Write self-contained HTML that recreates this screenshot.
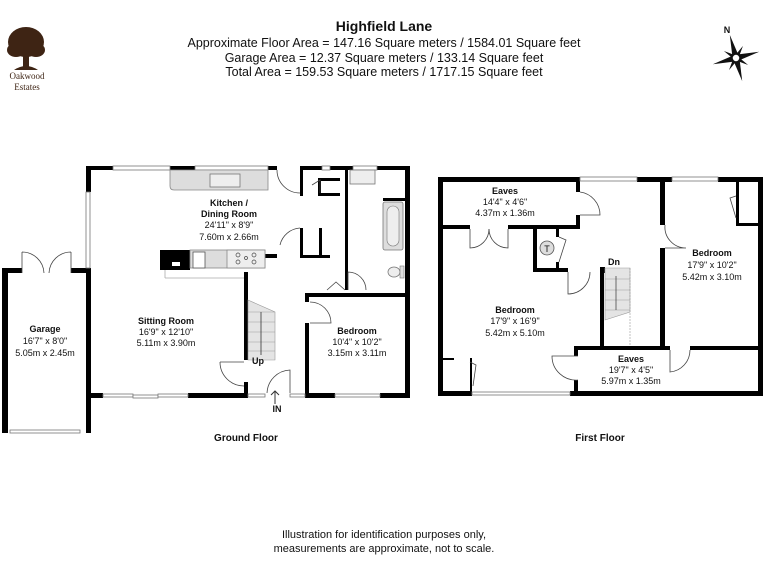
<!DOCTYPE html>
<html><head><meta charset="utf-8"><style>
body{margin:0;background:#fff}
svg{display:block}
text{font-family:"Liberation Sans",Arial,sans-serif;fill:#111}
</style></head><body>
<svg width="768" height="576" viewBox="0 0 768 576" xmlns="http://www.w3.org/2000/svg">
<rect width="768" height="576" fill="#fff"/>
<!-- header -->
<text x="384" y="31" font-size="14" font-weight="bold" text-anchor="middle">Highfield Lane</text>
<text x="384" y="47" font-size="12.5" text-anchor="middle">Approximate Floor Area = 147.16 Square meters / 1584.01 Square feet</text>
<text x="384" y="62" font-size="12.5" text-anchor="middle">Garage Area = 12.37 Square meters / 133.14 Square feet</text>
<text x="384" y="76" font-size="12.5" text-anchor="middle">Total Area = 159.53 Square meters / 1717.15 Square feet</text>
<!-- logo -->
<g fill="#3e2414">
<ellipse cx="26" cy="42" rx="18" ry="15"/>
<ellipse cx="16" cy="50" rx="9" ry="7"/>
<ellipse cx="36" cy="50" rx="9" ry="7"/>
<rect x="23" y="50" width="6" height="18"/>
<path d="M14 70 Q26 62 38 70 Z"/>
</g>
<text x="27" y="79" font-size="9" text-anchor="middle" style="font-family:'Liberation Serif',serif;fill:#3e2414">Oakwood</text>
<text x="27" y="90" font-size="9" text-anchor="middle" style="font-family:'Liberation Serif',serif;fill:#3e2414">Estates</text>
<!-- compass -->
<text x="727" y="33" font-size="9" font-weight="bold" text-anchor="middle">N</text>
<g transform="translate(736,58)" fill="#111">
<polygon points="0,-24 3,-3 0,0 -3,-3" transform="rotate(-15)"/>
<polygon points="0,-24 3,-3 0,0 -3,-3" transform="rotate(75)"/>
<polygon points="0,-24 3,-3 0,0 -3,-3" transform="rotate(165)"/>
<polygon points="0,-24 3,-3 0,0 -3,-3" transform="rotate(255)"/>
<polygon points="0,-14 2,-2 0,0 -2,-2" transform="rotate(30)"/>
<polygon points="0,-14 2,-2 0,0 -2,-2" transform="rotate(120)"/>
<polygon points="0,-14 2,-2 0,0 -2,-2" transform="rotate(210)"/>
<polygon points="0,-14 2,-2 0,0 -2,-2" transform="rotate(300)"/>
<circle r="4" fill="#fff" stroke="#111" stroke-width="1.5"/>
</g>

<!-- GROUND FLOOR -->
<g fill="#000">
<rect x="2" y="268" width="6" height="165"/>
<rect x="86" y="268" width="5" height="165"/>
<rect x="2" y="268" width="20" height="5"/>
<rect x="71" y="268" width="18" height="5"/>
<rect x="86" y="166" width="5" height="26"/>
<rect x="86" y="268" width="5" height="130"/>
<rect x="86" y="166" width="27" height="4"/>
<rect x="170" y="166" width="25" height="4"/>
<rect x="268" y="166" width="9" height="4"/>
<rect x="300" y="166" width="22" height="4"/>
<rect x="330" y="166" width="23" height="4"/>
<rect x="377" y="166" width="33" height="4"/>
<rect x="405" y="166" width="5" height="232"/>
<rect x="86" y="393" width="17" height="5"/>
<rect x="188" y="393" width="60" height="5"/>
<rect x="305" y="393" width="30" height="5"/>
<rect x="380" y="393" width="30" height="5"/>
<rect x="300" y="166" width="3" height="30"/>
<rect x="300" y="228" width="3" height="30"/>
<rect x="319" y="228" width="3" height="30"/>
<rect x="300" y="255" width="30" height="3"/>
<rect x="318" y="178" width="3" height="18"/>
<rect x="318" y="178" width="22" height="3"/>
<rect x="318" y="193" width="22" height="3"/>
<rect x="345" y="166" width="3" height="124"/>
<rect x="383" y="198" width="22" height="3"/>
<rect x="305" y="293" width="105" height="4"/>
<rect x="305" y="293" width="4" height="9"/>
<rect x="305" y="323" width="4" height="75"/>
<rect x="160" y="250" width="30" height="20"/>
<rect x="265" y="254" width="12" height="4"/>
<rect x="244" y="272" width="4" height="26"/>
<rect x="244" y="298" width="4" height="62"/>
<rect x="244" y="382" width="4" height="15"/>
</g>
<rect x="172" y="262" width="8" height="4" fill="#fff"/>
<g fill="#fff" stroke="#777" stroke-width="0.8">
<rect x="113" y="166" width="57" height="4"/>
<rect x="195" y="166" width="73" height="4"/>
<rect x="322" y="166" width="8" height="4"/>
<rect x="353" y="166" width="24" height="4"/>
<rect x="86" y="192" width="4" height="76"/>
<rect x="103" y="394" width="30" height="3"/><rect x="133" y="395" width="25" height="3"/><rect x="158" y="394" width="30" height="3"/>
<rect x="248" y="394" width="17" height="3"/>
<rect x="290" y="394" width="15" height="3"/>
<rect x="335" y="394" width="45" height="3"/>
<rect x="10" y="430" width="70" height="3"/>
</g>
<path d="M170 170 H268 V190 H174 Q170 190 170 186 Z" fill="#ddd" stroke="#888" stroke-width="0.8"/>
<rect x="210" y="174" width="30" height="13" fill="#eee" stroke="#777" stroke-width="0.8"/>
<rect x="190" y="250" width="75" height="18" fill="#ddd" stroke="#888" stroke-width="0.8"/>
<rect x="227" y="250" width="38" height="18" fill="#eee" stroke="#888" stroke-width="0.8"/>
<rect x="193" y="252" width="12" height="16" fill="#fff" stroke="#555" stroke-width="0.8"/>
<line x1="165" y1="278" x2="244" y2="278" stroke="#aaa" stroke-width="0.8"/>
<line x1="165" y1="270" x2="165" y2="278" stroke="#aaa" stroke-width="0.8"/>
<g fill="none" stroke="#444" stroke-width="0.7"><circle cx="238" cy="255" r="2"/><circle cx="238" cy="262" r="2"/><circle cx="254" cy="255" r="2"/><circle cx="254" cy="262" r="2"/><circle cx="246" cy="258" r="1.5"/></g>
<rect x="350" y="170" width="25" height="14" fill="#eee" stroke="#777" stroke-width="0.8"/>
<rect x="383" y="202" width="20" height="48" rx="2" fill="#ddd" stroke="#777" stroke-width="0.8"/>
<rect x="387" y="206" width="12" height="40" rx="6" fill="#eee" stroke="#777" stroke-width="0.6"/>
<ellipse cx="394" cy="272" rx="6" ry="5" fill="#eee" stroke="#777" stroke-width="0.8"/>
<rect x="400" y="266" width="4" height="12" fill="#ddd" stroke="#777" stroke-width="0.6"/>
<g fill="#e4e4e4" stroke="#999" stroke-width="0.6">
<path d="M248 300 L275 312 V360 H248 Z"/>
</g>
<g stroke="#999" stroke-width="0.6"><line x1="248" y1="312" x2="275" y2="312"/><line x1="248" y1="322" x2="275" y2="322"/><line x1="248" y1="332" x2="275" y2="332"/><line x1="248" y1="342" x2="275" y2="342"/><line x1="248" y1="351" x2="275" y2="351"/></g>
<line x1="261" y1="355" x2="261" y2="312" stroke="#333" stroke-width="0.8"/>
<g fill="none" stroke="#444" stroke-width="0.8">
<path d="M22 273 V252 M22 252 A22 22 0 0 1 44 273"/>
<path d="M71 273 V252 M71 252 A22 22 0 0 0 49 273"/>
<path d="M277 170 A23 23 0 0 0 300 193"/>
<path d="M280 245 A22 22 0 0 1 300 228"/>
<path d="M310 323 H331 A21 21 0 0 0 310 302"/>
<path d="M348 290 V272 A18 18 0 0 1 366 290"/>
<path d="M220 362 H244 M220 362 A24 24 0 0 0 244 386"/>
<path d="M267 393 A24 24 0 0 1 290 370 V393"/>
<path d="M327 290 L336 282 L345 290"/>
<path d="M312 185 L320 180 L320 193"/>
</g>
<path d="M275 391 V404 M271 395 L275 391 L279 395" fill="none" stroke="#333" stroke-width="1"/>
<g font-size="9" text-anchor="middle">
<text x="45" y="332" font-weight="bold">Garage</text>
<text x="45" y="344">16'7" x 8'0"</text>
<text x="45" y="356">5.05m x 2.45m</text>
<text x="166" y="324" font-weight="bold">Sitting Room</text>
<text x="166" y="335">16'9" x 12'10"</text>
<text x="166" y="346">5.11m x 3.90m</text>
<text x="229" y="206" font-weight="bold">Kitchen /</text>
<text x="229" y="217" font-weight="bold">Dining Room</text>
<text x="229" y="228">24'11" x 8'9"</text>
<text x="229" y="240">7.60m x 2.66m</text>
<text x="357" y="334" font-weight="bold">Bedroom</text>
<text x="357" y="345">10'4" x 10'2"</text>
<text x="357" y="356">3.15m x 3.11m</text>
<text x="258" y="364" font-weight="bold">Up</text>
<text x="277" y="412" font-weight="bold">IN</text>
<text x="246" y="441" font-weight="bold" font-size="10">Ground Floor</text>
<text x="600" y="441" font-weight="bold" font-size="10">First Floor</text>
</g>

<!-- FIRST FLOOR -->
<g fill="#000">
<rect x="438" y="177" width="5" height="219"/>
<rect x="758" y="177" width="5" height="219"/>
<rect x="438" y="177" width="142" height="5"/>
<rect x="637" y="177" width="35" height="5"/>
<rect x="718" y="177" width="45" height="5"/>
<rect x="438" y="391" width="34" height="5"/>
<rect x="570" y="391" width="193" height="5"/>
<rect x="438" y="225" width="32" height="4"/>
<rect x="508" y="225" width="72" height="4"/>
<rect x="576" y="177" width="4" height="15"/>
<rect x="576" y="215" width="4" height="14"/>
<rect x="533" y="227" width="4" height="45"/>
<rect x="533" y="268" width="35" height="4"/>
<rect x="556" y="227" width="3" height="10"/>
<rect x="556" y="262" width="3" height="10"/>
<rect x="600" y="267" width="5" height="6"/>
<rect x="600" y="267" width="4" height="81"/>
<rect x="660" y="177" width="5" height="48"/>
<rect x="660" y="248" width="5" height="102"/>
<rect x="574" y="346" width="96" height="4"/>
<rect x="690" y="346" width="73" height="4"/>
<rect x="574" y="346" width="4" height="10"/>
<rect x="574" y="380" width="4" height="16"/>
<rect x="736" y="177" width="3" height="48"/>
<rect x="736" y="223" width="27" height="3"/>
<rect x="440" y="358" width="14" height="2"/>
<rect x="470" y="358" width="2" height="34"/>
</g>
<g fill="#fff" stroke="#777" stroke-width="0.8">
<rect x="580" y="177" width="57" height="4"/>
<rect x="672" y="177" width="46" height="4"/>
<rect x="472" y="392" width="98" height="3"/>
</g>
<path d="M605 268 H630 V312 L605 320 Z" fill="#e4e4e4" stroke="#999" stroke-width="0.6"/>
<g stroke="#999" stroke-width="0.6"><line x1="605" y1="279" x2="630" y2="279"/><line x1="605" y1="290" x2="630" y2="290"/><line x1="605" y1="300" x2="630" y2="300"/><line x1="605" y1="310" x2="630" y2="310"/><line x1="630" y1="268" x2="630" y2="346" stroke-dasharray="2,1"/></g>
<line x1="616" y1="276" x2="616" y2="310" stroke="#333" stroke-width="0.7"/>
<circle cx="547" cy="248" r="7" fill="#ddd" stroke="#555" stroke-width="0.8"/>
<text x="547" y="252" font-size="9" text-anchor="middle">T</text>
<g fill="none" stroke="#444" stroke-width="0.8">
<path d="M580 192 A23 23 0 0 1 600 215 H580"/>
<path d="M470 229 V248 A19 19 0 0 0 489 229"/>
<path d="M508 229 V248 A19 19 0 0 1 489 229"/>
<path d="M559 237 L566 240 L559 262"/>
<path d="M568 272 V294 A22 22 0 0 0 590 272"/>
<path d="M665 225 A21 21 0 0 0 686 248 H665"/>
<path d="M670 350 V372 A22 22 0 0 0 690 350"/>
<path d="M578 356 H552 A24 24 0 0 0 578 380"/>
<path d="M736 196 L730 198 L736 218"/>
<path d="M470 362 L476 365 L473 386"/>
</g>
<g font-size="9" text-anchor="middle">
<text x="505" y="194" font-weight="bold">Eaves</text>
<text x="505" y="205">14'4" x 4'6"</text>
<text x="505" y="216">4.37m x 1.36m</text>
<text x="515" y="313" font-weight="bold">Bedroom</text>
<text x="515" y="324">17'9" x 16'9"</text>
<text x="515" y="336">5.42m x 5.10m</text>
<text x="712" y="256" font-weight="bold">Bedroom</text>
<text x="712" y="268">17'9" x 10'2"</text>
<text x="712" y="280">5.42m x 3.10m</text>
<text x="631" y="362" font-weight="bold">Eaves</text>
<text x="631" y="373">19'7" x 4'5"</text>
<text x="631" y="384">5.97m x 1.35m</text>
<text x="614" y="265" font-weight="bold">Dn</text>
</g>
<text x="384" y="538" font-size="11" text-anchor="middle">Illustration for identification purposes only,</text>
<text x="384" y="552" font-size="11" text-anchor="middle">measurements are approximate, not to scale.</text>
</svg>
</body></html>
